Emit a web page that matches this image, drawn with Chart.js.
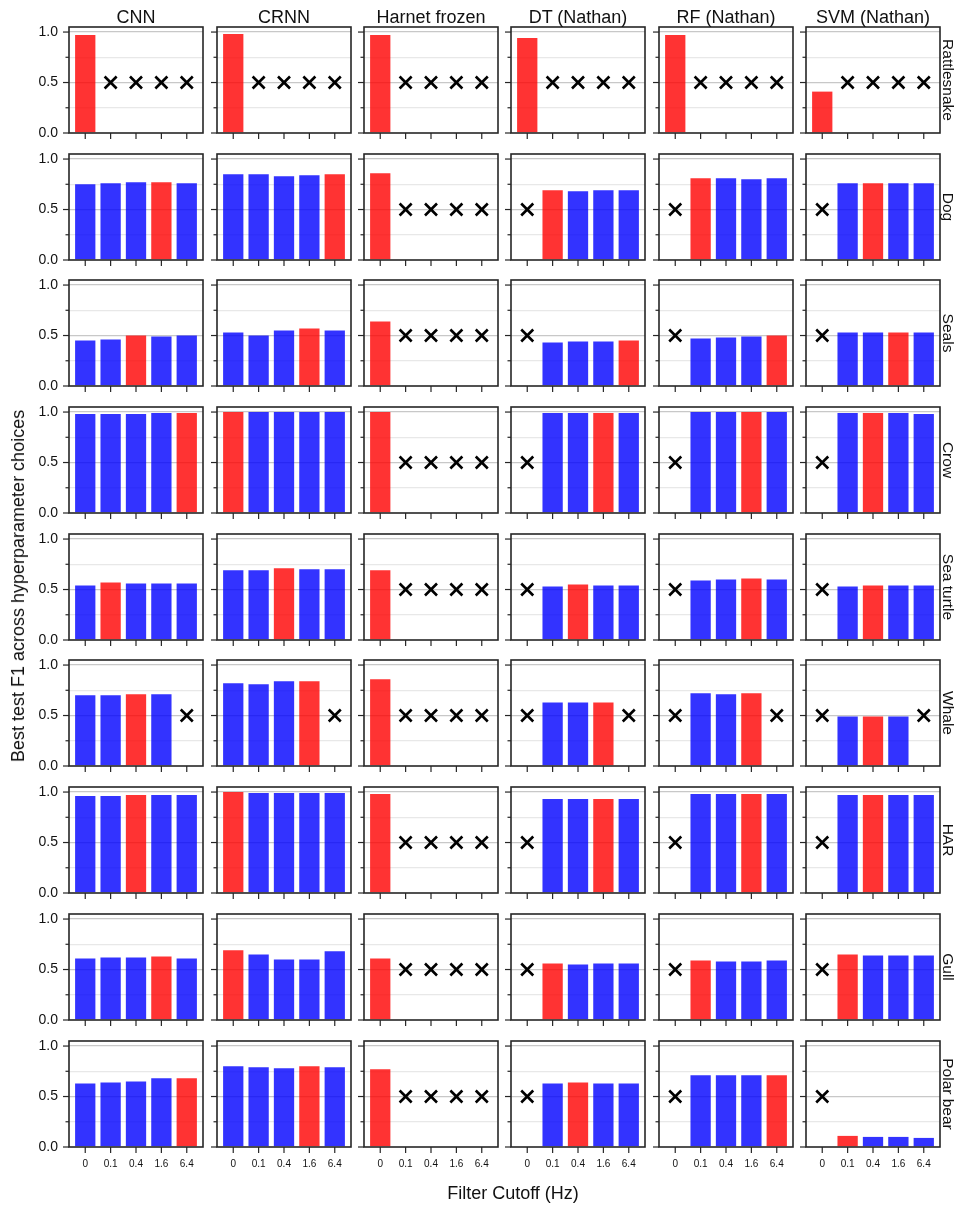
<!DOCTYPE html>
<html>
<head>
<meta charset="utf-8">
<script src="https://cdn.jsdelivr.net/npm/chart.js@4.4.1/dist/chart.umd.min.js"></script>
<style>
  html, body { margin: 0; padding: 0; background: #fff; }
  body { width: 956px; height: 1207px; position: relative; overflow: hidden;
         font-family: "Liberation Sans", Arial, Helvetica, sans-serif; color: #111; }
  canvas { position: absolute; }
  .txt { position: absolute; white-space: nowrap; line-height: 1; }
  .col-title { font-size: 18px; transform: translateX(-50%); }
  .row-label { font-size: 15.5px; transform: translate(-50%, -50%) rotate(90deg); }
  .y-title { font-size: 18px; transform: translate(-50%, -50%) rotate(-90deg); }
  .x-title { font-size: 18px; transform: translate(-50%, -50%); }
</style>
</head>
<body>
<script>
// Models (columns), datasets (rows), filter cutoffs (x categories)
const models = ['CNN', 'CRNN', 'Harnet frozen', 'DT (Nathan)', 'RF (Nathan)', 'SVM (Nathan)'];
const datasetNames = ['Rattlesnake', 'Dog', 'Seals', 'Crow', 'Sea turtle', 'Whale', 'HAR', 'Gull', 'Polar bear'];
const cutoffs = ['0', '0.1', '0.4', '1.6', '6.4'];
const yTickValues = [0, 0.25, 0.5, 0.75, 1.0];
const missingMarkY = 0.5;   // height of the "x" drawn where a run is missing

// Best test F1 per model (one row of five cutoffs per model); null = no result
const rattlesnake = [
  [0.97, null, null, null, null],
  [0.98, null, null, null, null],
  [0.97, null, null, null, null],
  [0.94, null, null, null, null],
  [0.97, null, null, null, null],
  [0.41, null, null, null, null]
];
const dog = [
  [0.75, 0.76, 0.77, 0.77, 0.76],
  [0.85, 0.85, 0.83, 0.84, 0.85],
  [0.86, null, null, null, null],
  [null, 0.69, 0.68, 0.69, 0.69],
  [null, 0.81, 0.81, 0.80, 0.81],
  [null, 0.76, 0.76, 0.76, 0.76]
];
const seals = [
  [0.45, 0.46, 0.50, 0.49, 0.50],
  [0.53, 0.50, 0.55, 0.57, 0.55],
  [0.64, null, null, null, null],
  [null, 0.43, 0.44, 0.44, 0.45],
  [null, 0.47, 0.48, 0.49, 0.50],
  [null, 0.53, 0.53, 0.53, 0.53]
];
const crow = [
  [0.98, 0.98, 0.98, 0.99, 0.99],
  [1.00, 1.00, 1.00, 1.00, 1.00],
  [1.00, null, null, null, null],
  [null, 0.99, 0.99, 0.99, 0.99],
  [null, 1.00, 1.00, 1.00, 1.00],
  [null, 0.99, 0.99, 0.99, 0.98]
];
const seaTurtle = [
  [0.54, 0.57, 0.56, 0.56, 0.56],
  [0.69, 0.69, 0.71, 0.70, 0.70],
  [0.69, null, null, null, null],
  [null, 0.53, 0.55, 0.54, 0.54],
  [null, 0.59, 0.60, 0.61, 0.60],
  [null, 0.53, 0.54, 0.54, 0.54]
];
const whale = [
  [0.70, 0.70, 0.71, 0.71, null],
  [0.82, 0.81, 0.84, 0.84, null],
  [0.86, null, null, null, null],
  [null, 0.63, 0.63, 0.63, null],
  [null, 0.72, 0.71, 0.72, null],
  [null, 0.49, 0.49, 0.49, null]
];
const har = [
  [0.96, 0.96, 0.97, 0.97, 0.97],
  [1.00, 0.99, 0.99, 0.99, 0.99],
  [0.98, null, null, null, null],
  [null, 0.93, 0.93, 0.93, 0.93],
  [null, 0.98, 0.98, 0.98, 0.98],
  [null, 0.97, 0.97, 0.97, 0.97]
];
const gull = [
  [0.61, 0.62, 0.62, 0.63, 0.61],
  [0.69, 0.65, 0.60, 0.60, 0.68],
  [0.61, null, null, null, null],
  [null, 0.56, 0.55, 0.56, 0.56],
  [null, 0.59, 0.58, 0.58, 0.59],
  [null, 0.65, 0.64, 0.64, 0.64]
];
const polarBear = [
  [0.63, 0.64, 0.65, 0.68, 0.68],
  [0.80, 0.79, 0.78, 0.80, 0.79],
  [0.77, null, null, null, null],
  [null, 0.63, 0.64, 0.63, 0.63],
  [null, 0.71, 0.71, 0.71, 0.71],
  [null, 0.11, 0.10, 0.10, 0.09]
];

// Index of the selected (best) cutoff for each model, highlighted in red
const bestRattlesnake = [0, 0, 0, 0, 0, 0];
const bestDog         = [3, 4, 0, 1, 1, 2];
const bestSeals       = [2, 3, 0, 4, 4, 3];
const bestCrow        = [4, 0, 0, 3, 3, 2];
const bestSeaTurtle   = [1, 2, 0, 2, 3, 2];
const bestWhale       = [2, 3, 0, 3, 3, 2];
const bestHar         = [2, 0, 0, 3, 3, 2];
const bestGull        = [3, 0, 0, 1, 1, 1];
const bestPolarBear   = [4, 3, 0, 2, 4, 1];

const rows = [rattlesnake, dog, seals, crow, seaTurtle, whale, har, gull, polarBear];
const bests = [bestRattlesnake, bestDog, bestSeals, bestCrow, bestSeaTurtle, bestWhale, bestHar, bestGull, bestPolarBear];

// Grid geometry
const colLeft = [69, 217, 364, 511, 659, 806];
const rowTop = [27, 154, 280, 407, 534, 660, 787, 914, 1041];
const panelW = 134, panelH = 106;
const padL = 44, padR = 6, padT = 4, padB = 34;

const RED = 'rgba(255, 0, 0, 0.8)';
const BLUE = 'rgba(0, 0, 255, 0.8)';
const FONT = '"Liberation Sans", Arial, Helvetica, sans-serif';

// Frame and tick marks, drawn on top like axis spines
const framePlugin = {
  id: 'frame',
  afterDraw(chart) {
    const { ctx, chartArea: a, scales } = chart;
    ctx.save();
    ctx.strokeStyle = '#262626';
    ctx.lineWidth = 1.2;
    yTickValues.forEach(v => {
      const y = scales.y.getPixelForValue(v);
      const len = (v * 2) % 1 === 0 ? 6 : 3.5;
      ctx.beginPath(); ctx.moveTo(a.left - len, y); ctx.lineTo(a.left, y); ctx.stroke();
    });
    cutoffs.forEach((c, i) => {
      const x = scales.x.getPixelForValue(i);
      ctx.beginPath(); ctx.moveTo(x, a.bottom); ctx.lineTo(x, a.bottom + 6); ctx.stroke();
    });
    ctx.lineWidth = 1.6;
    ctx.strokeRect(a.left, a.top, a.right - a.left, a.bottom - a.top);
    ctx.restore();
  }
};

function addText(cls, text, x, y) {
  const d = document.createElement('div');
  d.className = 'txt ' + cls;
  d.textContent = text;
  d.style.left = x + 'px';
  d.style.top = y + 'px';
  document.body.appendChild(d);
}

rows.forEach((row, r) => {
  row.forEach((values, c) => {
    const canvas = document.createElement('canvas');
    canvas.width = panelW + padL + padR;
    canvas.height = panelH + padT + padB;
    canvas.style.left = (colLeft[c] - padL) + 'px';
    canvas.style.top = (rowTop[r] - padT) + 'px';
    document.body.appendChild(canvas);

    const bars = [], colors = [], missing = [];
    values.forEach((v, i) => {
      if (v === null) {
        missing.push({ x: i, y: missingMarkY });
      } else {
        bars.push({ x: i, y: v });
        colors.push(i === bests[r][c] ? RED : BLUE);
      }
    });

    const showYLabels = c === 0;
    const showXLabels = r === rows.length - 1;

    new Chart(canvas, {
      type: 'bar',
      data: {
        datasets: [
          {
            data: bars,
            backgroundColor: colors,
            borderWidth: 0,
            barPercentage: 0.8,
            categoryPercentage: 1.0
          },
          {
            type: 'scatter',
            data: missing,
            pointStyle: 'crossRot',
            radius: 8.5,
            borderWidth: 2.6,
            borderColor: '#000',
            backgroundColor: '#000',
            showLine: false
          }
        ]
      },
      options: {
        responsive: false,
        animation: false,
        devicePixelRatio: 1,
        events: [],
        layout: { autoPadding: false, padding: { left: 0, right: padR, top: padT, bottom: 0 } },
        plugins: { legend: { display: false }, tooltip: { enabled: false }, title: { display: false } },
        scales: {
          x: {
            type: 'linear',
            offset: false,
            min: -0.64,
            max: 4.64,
            afterBuildTicks: s => { s.ticks = cutoffs.map((_, i) => ({ value: i })); },
            afterFit: s => { s.height = padB; s.paddingLeft = 0; s.paddingRight = 0; },
            border: { display: false },
            grid: { display: true, offset: false, drawOnChartArea: false, drawTicks: false, color: 'rgba(0,0,0,0)' },
            ticks: {
              display: showXLabels,
              autoSkip: false,
              maxRotation: 0,
              padding: 11,
              color: '#111',
              font: { family: FONT, size: 10 },
              callback: v => cutoffs[v]
            }
          },
          y: {
            min: 0,
            max: 1.05,
            afterBuildTicks: s => { s.ticks = yTickValues.map(v => ({ value: v })); },
            afterFit: s => { s.width = padL; s.paddingTop = 0; s.paddingBottom = 0; },
            border: { display: false },
            grid: {
              drawTicks: false,
              lineWidth: 1.3,
              color: ctx => {
                const v = ctx.tick ? ctx.tick.value : 0;
                if (v === 0) return 'rgba(0,0,0,0)';
                return (v * 2) % 1 === 0 ? '#c8c8c8' : '#e8e8e8';
              }
            },
            ticks: {
              display: showYLabels,
              autoSkip: false,
              padding: 11,
              color: '#111',
              font: { family: FONT, size: 14 },
              callback: v => ((v * 2) % 1 === 0 ? v.toFixed(1) : '')
            }
          }
        }
      },
      plugins: [framePlugin]
    });
  });
});

// Column titles, row labels and shared axis titles
models.forEach((m, c) => addText('col-title', m, colLeft[c] + panelW / 2, 8));
datasetNames.forEach((n, r) => addText('row-label', n, 947.5, rowTop[r] + panelH / 2));
addText('y-title', 'Best test F1 across hyperparameter choices', 18, 586);
addText('x-title', 'Filter Cutoff (Hz)', 513, 1193);
</script>
</body>
</html>
